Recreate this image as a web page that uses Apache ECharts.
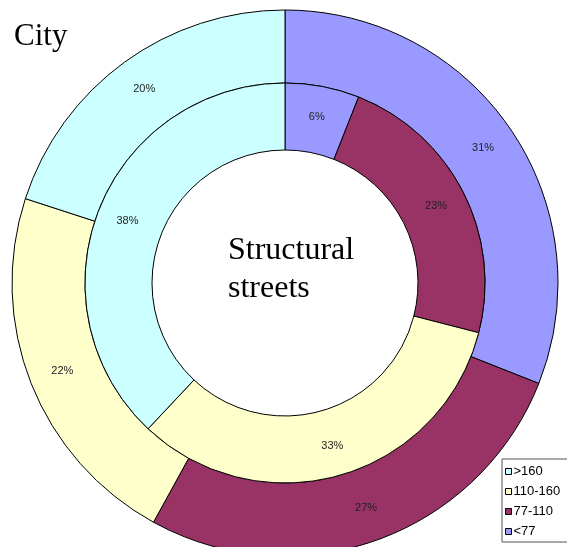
<!DOCTYPE html>
<html>
<head>
<meta charset="utf-8">
<script src="https://cdn.jsdelivr.net/npm/echarts@6/dist/echarts.min.js"></script>
<style>
  html, body { margin: 0; padding: 0; background: #fff; }
  #chart { width: 567px; height: 547px; }
</style>
</head>
<body>
<div id="chart"></div>
<script>
// classes, clockwise from 12 o'clock
const categories = ['<77', '77-110', '110-160', '>160']
const legendOrder = ['>160', '110-160', '77-110', '<77']
const cityShare = [31, 27, 22, 20]        // outer ring
const structuralShare = [6, 23, 33, 38]   // inner ring
const colors = ['#9999FF', '#993366', '#FFFFCC', '#CCFFFF']

const mChart = echarts.init(document.getElementById('chart'))

const ring = (name, values, radius) => ({
  name,
  type: 'pie',
  center: [285, 283],
  radius,
  startAngle: 90,
  clockwise: true,
  animation: false,
  silent: true,
  data: categories.map((c, i) => ({
    name: c,
    value: values[i],
    itemStyle: { color: colors[i] }
  })),
  itemStyle: {
    borderColor: '#000',
    borderWidth: 1
  },
  label: {
    show: true,
    position: 'inside',
    formatter: '{c}%',
    color: '#222',
    fontFamily: 'Arial, Liberation Sans',
    fontSize: 11
  },
  labelLine: { show: false },
  emphasis: { disabled: true }
})

const option = {
  backgroundColor: '#fff',
  title: {
    text: 'City',
    left: 9,
    top: 16,
    textStyle: {
      fontFamily: 'Times New Roman, Liberation Serif',
      fontWeight: 'normal',
      fontSize: 31,
      color: '#000'
    }
  },
  legend: {
    data: legendOrder,
    orient: 'vertical',
    left: 502,
    top: 459,
    itemWidth: 6,
    itemHeight: 6,
    itemGap: 7,
    padding: [6, 10, 4, 3],
    borderColor: '#555',
    borderWidth: 1,
    backgroundColor: '#fff',
    icon: 'rect',
    itemStyle: { borderColor: '#000', borderWidth: 1 },
    textStyle: {
      fontFamily: 'Arial, Liberation Sans',
      fontSize: 13,
      color: '#000',
      padding: [0, 0, 0, -3]
    }
  },
  graphic: [
    {
      type: 'text',
      left: 228,
      top: 232,
      style: {
        text: 'Structural\nstreets',
        font: '32px "Times New Roman", "Liberation Serif"',
        lineHeight: 38,
        fill: '#000'
      }
    }
  ],
  series: [
    ring('City', cityShare, [200, 273]),
    ring('Structural streets', structuralShare, [133, 200])
  ]
}
mChart.setOption(option)
</script>
</body>
</html>
